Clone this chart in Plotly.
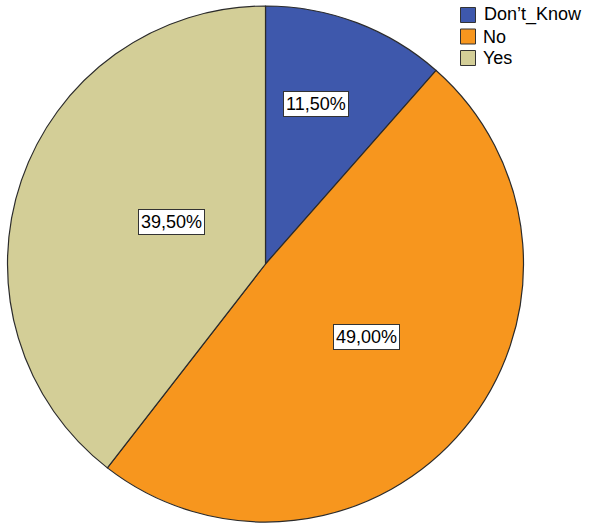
import math
import plotly.graph_objects as go

# Survey answers and their shares (percent)
categories = ["Don\u2019t_Know", "No", "Yes"]
shares = [11.50, 49.00, 39.50]
colors = ["#3E58AC", "#F7961E", "#D3CE97"]

W, H = 594, 523
# pie placement in pixels: centre and radius
CX, CY, R = 265.5, 264.0, 258.0

# where each percentage box sits: fraction of the slice angle, fraction of radius
label_place = [(0.39, 0.70), (0.505, 0.515), (0.494, 0.52)]

FONT = "Liberation Sans, Arial"

fig = go.Figure()
fig.add_trace(go.Pie(
    labels=categories,
    values=shares,
    sort=False,
    direction="clockwise",
    rotation=0,
    marker=dict(colors=colors, line=dict(color="#2b2b2b", width=1.2)),
    textinfo="none",
    hoverinfo="label+percent",
    showlegend=False,
    domain=dict(x=[(CX - R) / W, (CX + R) / W],
                y=[1 - (CY + R) / H, 1 - (CY - R) / H]),
))

# percentage boxes, placed inside each slice from the cumulative angles
total = sum(shares)
start = 0.0
for v, (af, rf) in zip(shares, label_place):
    span = v / total * 360.0
    ang = math.radians(start + af * span)
    px = CX + rf * R * math.sin(ang)
    py = CY - rf * R * math.cos(ang)
    fig.add_annotation(
        x=px / W, y=1 - py / H, xref="paper", yref="paper",
        text=f"{v:.2f}%".replace(".", ","),
        showarrow=False,
        font=dict(family=FONT, size=18, color="#000"),
        bgcolor="white", bordercolor="#333", borderwidth=1, borderpad=2,
    )
    start += span

# legend box in the top-right corner: swatch + category name per row
LX, LY0, ROW, SW = 460.5, 7.5, 21.5, 15
for i, (name, col) in enumerate(zip(categories, colors)):
    top = LY0 + i * ROW
    fig.add_shape(
        type="rect", xref="paper", yref="paper",
        x0=LX / W, x1=(LX + SW) / W,
        y0=1 - (top + SW) / H, y1=1 - top / H,
        fillcolor=col, line=dict(color="#333", width=1),
    )
    fig.add_annotation(
        x=(LX + SW + 6) / W, y=1 - (top + SW / 2) / H,
        xref="paper", yref="paper", xanchor="left", yanchor="middle",
        text=name, showarrow=False,
        font=dict(family=FONT, size=18, color="#000"),
    )

fig.update_layout(
    width=W, height=H,
    margin=dict(l=0, r=0, t=0, b=0),
    paper_bgcolor="white",
    plot_bgcolor="white",
    showlegend=False,
)

fig.write_html("out.html")
